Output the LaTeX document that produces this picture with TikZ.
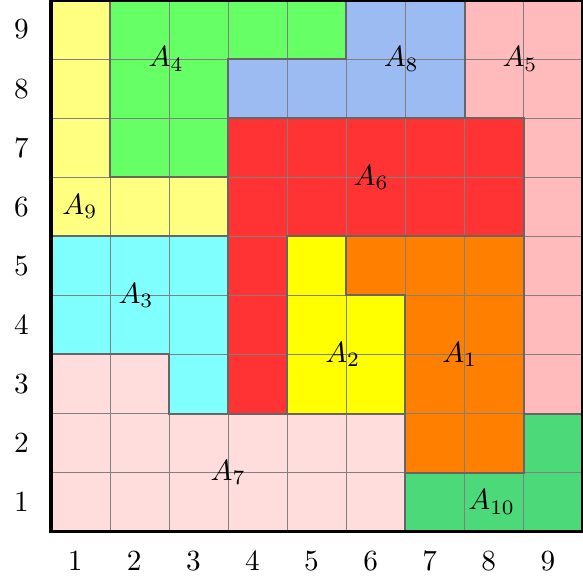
\documentclass[tikz,border=0pt]{standalone}
\usepackage{tikz}
\definecolor{PaleYellow}{HTML}{FFFF80}
\definecolor{Leaf}{HTML}{66FF66}
\definecolor{Sky}{HTML}{9CBBF2}
\definecolor{Blush}{HTML}{FFBBBB}
\definecolor{Scarlet}{HTML}{FF3333}
\definecolor{Aqua}{HTML}{80FFFF}
\definecolor{Lemon}{HTML}{FFFF00}
\definecolor{Tangerine}{HTML}{FF8000}
\definecolor{Rose}{HTML}{FFDDDD}
\definecolor{Jade}{HTML}{4CD97A}
\definecolor{Rim}{HTML}{666666}
\tikzset{
 gridline/.style={draw=gray,line width=0.35pt},
 border/.style={draw=Rim,line width=0.7pt,line join=miter},
 frame/.style={draw=black,line width=1.1pt},
 axislab/.style={inner sep=1pt},
 area/.style={inner sep=1pt}
}
\def\regions{%
 PaleYellow/{(0,5) -- (3,5) -- (3,6) -- (1,6) -- (1,9) -- (0,9) -- cycle},
 Leaf/{(1,6) -- (3,6) -- (3,8) -- (5,8) -- (5,9) -- (1,9) -- cycle},
 Sky/{(3,7) -- (7,7) -- (7,9) -- (5,9) -- (5,8) -- (3,8) -- cycle},
 Blush/{(8,2) -- (9,2) -- (9,9) -- (7,9) -- (7,7) -- (8,7) -- cycle},
 Scarlet/{(3,2) -- (4,2) -- (4,5) -- (8,5) -- (8,7) -- (3,7) -- cycle},
 Aqua/{(0,3) -- (2,3) -- (2,2) -- (3,2) -- (3,5) -- (0,5) -- cycle},
 Lemon/{(4,2) -- (6,2) -- (6,4) -- (5,4) -- (5,5) -- (4,5) -- cycle},
 Tangerine/{(6,1) -- (8,1) -- (8,5) -- (5,5) -- (5,4) -- (6,4) -- cycle},
 Rose/{(0,0) -- (6,0) -- (6,2) -- (2,2) -- (2,3) -- (0,3) -- cycle},
 Jade/{(6,0) -- (9,0) -- (9,2) -- (8,2) -- (8,1) -- (6,1) -- cycle}}

\begin{document}
\begin{tikzpicture}[x=0.71cm,y=0.71cm]
\useasboundingbox (-0.863,-0.902) rectangle (9,9);
% fills, then grid, then region outlines
\foreach \c/\p in \regions {\fill[\c] \p;}
\draw[gridline,step=1] (0,0) grid (9,9);
\foreach \c/\p in \regions {\draw[border] \p;}
\draw[frame] (0,0) rectangle (9,9);
% axis numbers
\foreach \i in {1,...,9} {
 \node[axislab] (col\i) at (\i-0.59,-0.5) {$\i$};
 \node[axislab] (row\i) at (-0.5,\i-0.5) {$\i$};
}
% region names
\node[area] (a1) at (6.92,3) {$A_1$};
\node[area] (a2) at (4.94,3) {$A_2$};
\node[area] (a3) at (1.44,4) {$A_3$};
\node[area] (a4) at (1.95,8) {$A_4$};
\node[area] (a5) at (7.94,8) {$A_5$};
\node[area] (a6) at (5.42,6) {$A_6$};
\node[area] (a7) at (3,1) {$A_7$};
\node[area] (a8) at (5.93,8) {$A_8$};
\node[area] (a9) at (0.49,5.5) {$A_9$};
\node[area] (a10) at (7.46,0.5) {$A_{10}$};
\end{tikzpicture}
\end{document}
